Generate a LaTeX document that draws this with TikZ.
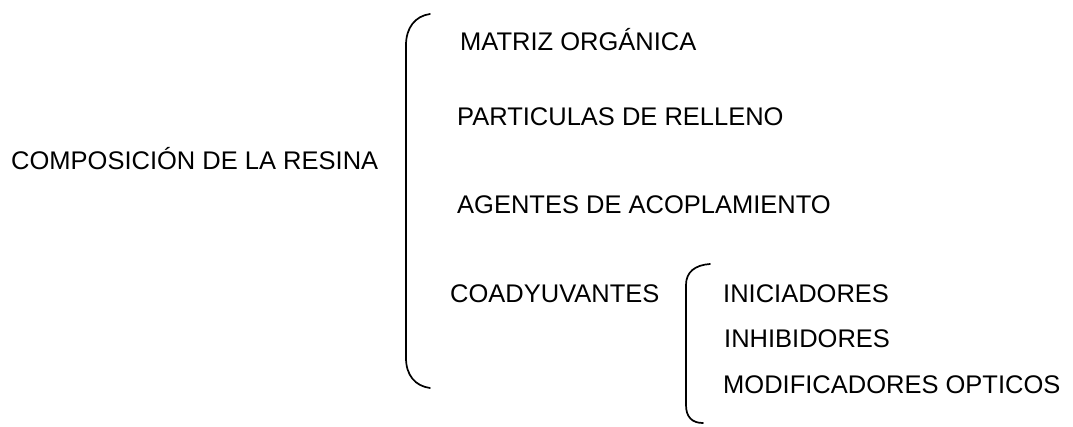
\documentclass[tikz,border=0pt]{standalone}
\usepackage{fontspec}
\setmainfont{Liberation Sans}
\begin{document}
\begin{tikzpicture}[x=1pt,y=-1pt,
  lbl/.style={anchor=base west,inner sep=0pt,font=\fontsize{25.5}{30}\selectfont},
  brace/.style={draw=black,line width=1.7pt,line cap=round}]
\useasboundingbox (0,0) rectangle (1073,426);
\node[lbl] (comp) at (11,169) {COMPOSICIÓN DE LA RESINA};
\node[lbl] (matriz) at (460,50) {MATRIZ ORGÁNICA};
\node[lbl] (part) at (457,125) {PARTICULAS DE RELLENO};
\node[lbl] (agen) at (457,213) {AGENTES DE ACOPLAMIENTO};
\node[lbl] (coad) at (450,302) {COADYUVANTES};
\node[lbl] (inic) at (723,302) {INICIADORES};
\node[lbl] (inhi) at (724,347) {INHIBIDORES};
\node[lbl] (modi) at (723,393) {MODIFICADORES OPTICOS};
% big bracket
\path[brace] (430,14) .. controls (415,16) and (406,28) .. (406,45)
  -- (406,358) .. controls (406,375) and (415,386) .. (430,388);
% small bracket
\path[brace] (710,264) .. controls (695,265) and (686,272) .. (686,285)
  -- (686,405) .. controls (686,417) and (692,423) .. (703,423);
\end{tikzpicture}
\end{document}
